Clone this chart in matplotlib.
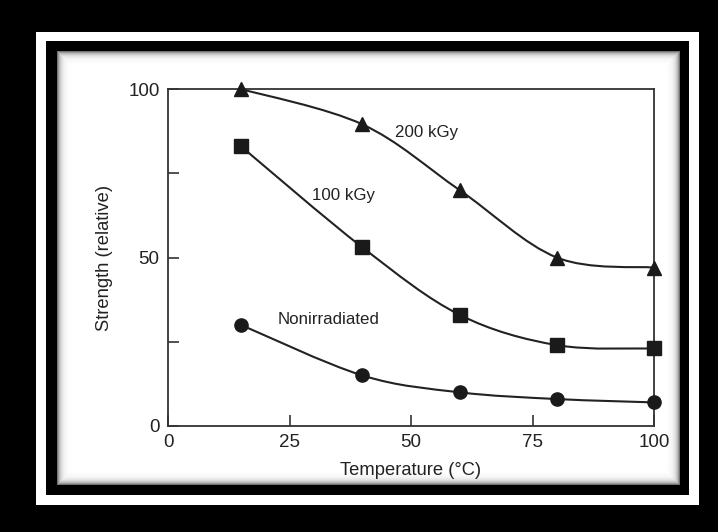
"""
Relative strength vs temperature for irradiated samples.
"""

import numpy as np
import matplotlib.pyplot as plt
from matplotlib.path import Path
from matplotlib.patches import PathPatch, Rectangle

plt.rcParams['font.family'] = ['Liberation Sans', 'DejaVu Sans']

# data
temps = [15, 40, 60, 80, 100]
s_200 = [100, 89.5, 70, 50, 47]
s_100 = [83, 53, 33, 24, 23]
s_non = [30, 15, 10, 8, 7]

series = [
    ('200 kGy', s_200, '^', 10, (46.7, 87.2)),
    ('100 kGy', s_100, 's', 10, (29.6, 68.5)),
    ('Nonirradiated', s_non, 'o', 9.5, (22.6, 31.5)),
]

x_ticks = [0, 25, 50, 75, 100]
y_ticks = [0, 25, 50, 75, 100]
y_ticklabels = ['0', '', '50', '', '100']

INK = '#222222'
W, H = 718, 532


def smooth_path(xs, ys):
    """Catmull-Rom curve through the points, as cubic Bezier segments."""
    pts = np.column_stack([xs, ys]).astype(float)
    ext = np.vstack([pts[0], pts, pts[-1]])
    verts = [pts[0]]
    codes = [Path.MOVETO]
    for i in range(1, len(ext) - 2):
        p0, p1, p2, p3 = ext[i - 1], ext[i], ext[i + 1], ext[i + 2]
        verts += [p1 + (p2 - p0) / 6, p2 - (p3 - p1) / 6, p2]
        codes += [Path.CURVE4] * 3
    return Path(verts, codes)


fig = plt.figure(figsize=(W / 100, H / 100), dpi=100)
fig.patch.set_facecolor('black')

# frame: white band, black band, white panel with inner shadow
bg = fig.add_axes([0, 0, 1, 1])
bg.axis('off')
bg.add_patch(Rectangle((36, 32), 663, 473, facecolor='white',
                       edgecolor='none', zorder=0))
bg.add_patch(Rectangle((46, 41), 643, 454, facecolor='black',
                       edgecolor='none', zorder=0.5))

px0, py0, px1, py1 = 57, 51, 680, 485
gx = np.arange(px0, px1) + 0.5
gy = np.arange(py0, py1) + 0.5
dx = np.minimum(gx - px0, px1 - gx)[None, :]
dy = np.minimum(gy - py0, py1 - gy)[:, None]
d = np.minimum(dx, dy)
shade = 1 - 0.65 * np.exp(-d / 3.0)
bg.imshow(shade, cmap='gray', vmin=0, vmax=1, extent=(px0, px1, py1, py0),
          interpolation='bilinear', aspect='auto', zorder=1)
bg.set_xlim(0, W)
bg.set_ylim(H, 0)

ax = fig.add_axes([168 / W, 1 - 426 / H, 486 / W, 337 / H])
ax.set_facecolor('none')

for label, vals, marker, ms, pos in series:
    ax.add_patch(PathPatch(smooth_path(temps, vals), facecolor='none',
                           edgecolor=INK, linewidth=1.5, zorder=2))
    ax.plot(temps, vals, linestyle='none', marker=marker, markersize=ms,
            color='#1a1a1a', zorder=3, clip_on=False)
    ax.text(pos[0], pos[1], label, fontsize=12.2, color=INK,
            ha='left', va='center')

ax.set_xlim(0, 100)
ax.set_ylim(0, 100)
ax.set_xticks(x_ticks)
ax.set_yticks(y_ticks)
ax.set_yticklabels(y_ticklabels)
ax.tick_params(direction='in', length=8, width=1.2, color='#333333',
               labelsize=13.5, labelcolor=INK, pad=6)
for sp in ax.spines.values():
    sp.set_color('#333333')
    sp.set_linewidth(1.3)

ax.set_xlabel('Temperature (°C)', fontsize=13.2, color=INK)
ax.set_ylabel('Strength (relative)', fontsize=13.2, color=INK)
ax.xaxis.set_label_coords(0.5, -0.108)
ax.yaxis.set_label_coords(-0.113, 0.5)

plt.savefig('out.png', dpi=100, facecolor=fig.get_facecolor())
